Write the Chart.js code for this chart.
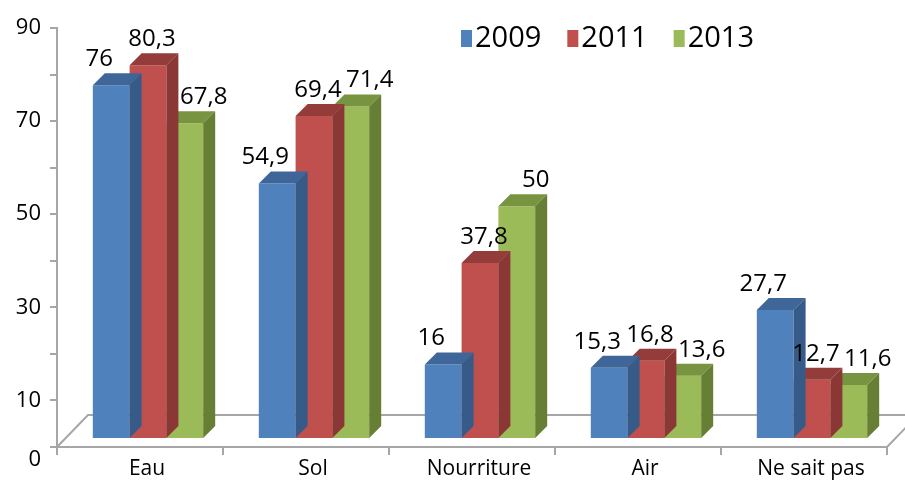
<!DOCTYPE html>
<html>
<head>
<meta charset="utf-8">
<script src="https://cdn.jsdelivr.net/npm/chart.js@4.4.1/dist/chart.umd.min.js"></script>
<style>
  html, body { margin: 0; padding: 0; background: #fff; }
  #wrap { width: 905px; height: 491px; }
</style>
</head>
<body>
<div id="wrap"><canvas id="graf"></canvas></div>
<script>
const categories = ['Eau', 'Sol', 'Nourriture', 'Air', 'Ne sait pas'];
const annees = ['2009', '2011', '2013'];
const v2009 = [76, 54.9, 16, 15.3, 27.7];
const v2011 = [80.3, 69.4, 37.8, 16.8, 12.7];
const v2013 = [67.8, 71.4, 50, 13.6, 11.6];
const ticksAffiches = [10, 30, 50, 70, 90];

const FONT = '"Open Sans", "DejaVu Sans", sans-serif';
const GRIS = '#a6a6a6';
const PROF = 12;                 // profondeur des barres
const DECAL = { x: 8, y: -8 };   // barres posées au milieu du sol
const SOL = { x: 31, y: -32 };   // profondeur du sol
const couleurs = [
  { face: '#4f81bd', haut: '#3e6698', cote: '#375b88' },
  { face: '#c0504d', haut: '#933c3a', cote: '#8a3735' },
  { face: '#9bbb59', haut: '#789440', cote: '#667f35' }
];
const decalEtiquette = [-12, 4, 19];

const barres3d = {
  id: 'barres3d',
  beforeDatasetsDraw(chart) {
    const ctx = chart.ctx, a = chart.chartArea;
    ctx.save();
    ctx.strokeStyle = GRIS;
    ctx.lineWidth = 2;
    ctx.beginPath();
    ctx.moveTo(a.left, a.bottom);
    ctx.lineTo(a.left + SOL.x, a.bottom + SOL.y);
    ctx.lineTo(a.right + SOL.x, a.bottom + SOL.y);
    ctx.moveTo(a.right, a.bottom);
    ctx.lineTo(a.right + SOL.x, a.bottom + SOL.y);
    ctx.stroke();
    ctx.restore();
    ctx.save();
    ctx.translate(DECAL.x, DECAL.y);
  },
  afterDatasetDraw(chart, args) {
    const ctx = chart.ctx, c = couleurs[args.index];
    args.meta.data.forEach(b => {
      const p = b.getProps(['x', 'y', 'base', 'width'], true);
      const g = p.x - p.width / 2, d = p.x + p.width / 2;
      ctx.fillStyle = c.haut;
      ctx.beginPath();
      ctx.moveTo(g, p.y); ctx.lineTo(g + PROF, p.y - PROF);
      ctx.lineTo(d + PROF, p.y - PROF); ctx.lineTo(d, p.y);
      ctx.closePath(); ctx.fill();
      ctx.fillStyle = c.cote;
      ctx.beginPath();
      ctx.moveTo(d, p.y); ctx.lineTo(d + PROF, p.y - PROF);
      ctx.lineTo(d + PROF, p.base - PROF); ctx.lineTo(d, p.base);
      ctx.closePath(); ctx.fill();
    });
  },
  afterDatasetsDraw(chart) {
    const ctx = chart.ctx;
    ctx.restore();
    // étiquettes de valeurs
    ctx.save();
    ctx.font = '24px ' + FONT;
    ctx.fillStyle = '#000';
    ctx.textAlign = 'center';
    ctx.textBaseline = 'middle';
    chart.data.datasets.forEach((ds, i) => {
      chart.getDatasetMeta(i).data.forEach((b, j) => {
        const txt = String(ds.data[j]).replace('.', ',');
        ctx.fillText(txt, b.x + DECAL.x + decalEtiquette[i], b.y + DECAL.y - 26);
      });
    });
    // légende
    ctx.font = '29px ' + FONT;
    ctx.textAlign = 'left';
    let x = chart.chartArea.right - 426;
    const y = 38;
    chart.data.datasets.forEach((ds, i) => {
      ctx.fillStyle = ds.backgroundColor;
      ctx.fillRect(x, y - 8, 11, 17);
      ctx.fillStyle = '#000';
      ctx.fillText(ds.label, x + 14, y + 1);
      x += 14 + ctx.measureText(ds.label).width + 26;
    });
    ctx.restore();
  }
};

const series = [v2009, v2011, v2013];
new Chart(document.getElementById('graf'), {
  type: 'bar',
  data: {
    labels: categories,
    datasets: annees.map((an, i) => ({
      label: an,
      data: series[i],
      backgroundColor: couleurs[i].face,
      borderWidth: 0,
      clip: false
    }))
  },
  options: {
    responsive: true,
    maintainAspectRatio: false,
    animation: false,
    categoryPercentage: 0.665,
    barPercentage: 1,
    layout: { padding: { top: 28, right: 18, left: 0, bottom: 0 } },
    plugins: { legend: { display: false }, tooltip: { enabled: false } },
    scales: {
      x: {
        afterFit: s => { s.height = 44; },
        grid: { drawOnChartArea: false, tickLength: 8, color: GRIS, lineWidth: 2 },
        border: { color: GRIS, width: 2 },
        ticks: { color: '#000', font: { family: FONT, size: 21 }, padding: 1, labelOffset: 7, maxRotation: 0, autoSkip: false }
      },
      y: {
        min: 0, max: 90,
        afterFit: s => { s.width = 57; },
        grid: { drawOnChartArea: false, tickLength: 7, color: GRIS, lineWidth: 2 },
        border: { color: GRIS, width: 2 },
        ticks: {
          stepSize: 10,
          autoSkip: false,
          color: '#000',
          padding: 9,
          font: { family: FONT, size: 22 },
          callback: v => v === 0 ? ['', '0'] : (ticksAffiches.includes(v) ? String(v) : '')
        }
      }
    }
  },
  plugins: [barres3d]
});
</script>
</body>
</html>
